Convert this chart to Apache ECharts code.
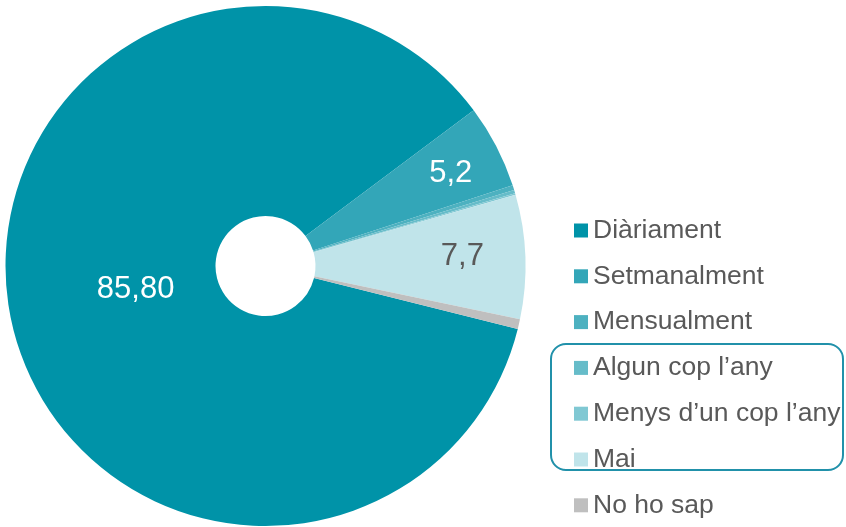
<!DOCTYPE html>
<html>
<head>
<meta charset="utf-8">
<script src="https://cdn.jsdelivr.net/npm/echarts@6/dist/echarts.min.js"></script>
<style>
html,body{margin:0;padding:0;background:#fff;}
#chart{width:846px;height:527px;}
</style>
</head>
<body>
<div id="chart"></div>
<script>
// Data
var categories = ['Diàriament', 'Setmanalment', 'Mensualment', 'Algun cop l\u2019any', 'Menys d\u2019un cop l\u2019any', 'Mai', 'No ho sap'];
var values = [85.8, 5.2, 0.3, 0.2, 0.1, 7.7, 0.6];
var valueLabels = ['85,80', '5,2', '', '', '', '7,7', ''];

// Styles
var colors = ['#0093A8', '#33A6B8', '#4DB1C0', '#66BCC9', '#80C8D3', '#C0E4EA', '#BFBFBF'];
var labelColors = ['#ffffff', '#ffffff', '#595959', '#595959', '#595959', '#595959', '#595959'];
var labelShift = [[25, -8], [45, -20], [0, 0], [0, 0], [0, 0], [39, -4], [0, 0]];

var chart = echarts.init(document.getElementById('chart'), null, {renderer: 'canvas'});
var data = categories.map(function (c, i) {
  return {
    name: c,
    value: values[i],
    itemStyle: {color: colors[i]},
    label: {show: valueLabels[i] !== '', color: labelColors[i]}
  };
});

chart.setOption({
  animation: false,
  backgroundColor: '#ffffff',
  textStyle: {fontFamily: 'Liberation Sans, Arial, sans-serif'},
  legend: {
    type: 'plain',
    orient: 'vertical',
    left: 574,
    top: 217,
    height: 310,
    padding: 0,
    itemWidth: 14,
    itemHeight: 14,
    itemGap: 18.8,
    icon: 'rect',
    selectedMode: false,
    textStyle: {fontSize: 26.5, lineHeight: 26, color: '#595959', fontFamily: 'Liberation Sans, Arial, sans-serif'},
    data: categories
  },
  graphic: [{
    type: 'rect',
    silent: true,
    shape: {x: 551, y: 344, width: 292, height: 126, r: 15},
    style: {fill: 'transparent', stroke: '#2191AA', lineWidth: 2},
    z: 10
  }],
  series: [{
    type: 'pie',
    center: [265.5, 266],
    radius: [50, 260],
    startAngle: 346,
    clockwise: true,
    avoidLabelOverlap: false,
    minShowLabelAngle: 0,
    label: {
      position: 'inside',
      fontSize: 31,
      fontFamily: 'Liberation Sans, Arial, sans-serif',
      formatter: function (p) { return valueLabels[p.dataIndex]; }
    },
    labelLine: {show: false},
    labelLayout: function (p) {
      var s = labelShift[p.dataIndex];
      return {dx: s[0], dy: s[1]};
    },
    itemStyle: {borderWidth: 0},
    emphasis: {disabled: true},
    data: data
  }]
});
</script>
</body>
</html>
